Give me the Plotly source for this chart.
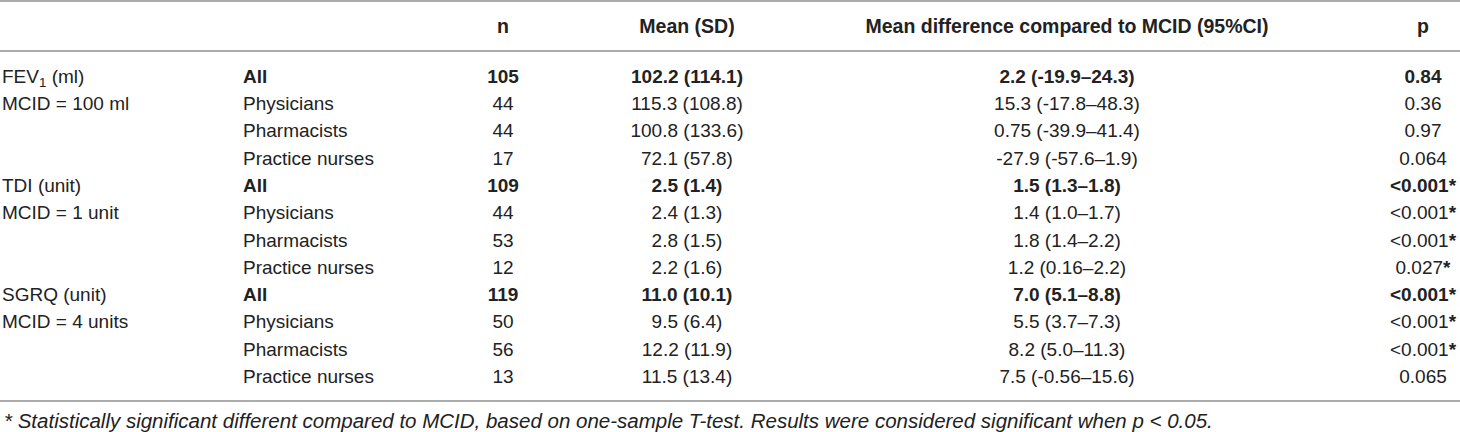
import plotly.graph_objects as go

# table content
headers = ["", "", "n", "Mean (SD)", "Mean difference compared to MCID (95%CI)", "p"]
measures = ["FEV<sub>1</sub> (ml)", "MCID = 100 ml", "", "",
            "TDI (unit)", "MCID = 1 unit", "", "",
            "SGRQ (unit)", "MCID = 4 units", "", ""]
groups = ["All", "Physicians", "Pharmacists", "Practice nurses"] * 3
n_vals = [105, 44, 44, 17, 109, 44, 53, 12, 119, 50, 56, 13]
mean_sd = ["102.2 (114.1)", "115.3 (108.8)", "100.8 (133.6)", "72.1 (57.8)",
           "2.5 (1.4)", "2.4 (1.3)", "2.8 (1.5)", "2.2 (1.6)",
           "11.0 (10.1)", "9.5 (6.4)", "12.2 (11.9)", "11.5 (13.4)"]
mean_diff = ["2.2 (-19.9–24.3)", "15.3 (-17.8–48.3)", "0.75 (-39.9–41.4)", "-27.9 (-57.6–1.9)",
             "1.5 (1.3–1.8)", "1.4 (1.0–1.7)", "1.8 (1.4–2.2)", "1.2 (0.16–2.2)",
             "7.0 (5.1–8.8)", "5.5 (3.7–7.3)", "8.2 (5.0–11.3)", "7.5 (-0.56–15.6)"]
p_vals = ["0.84", "0.36", "0.97", "0.064",
          "&lt;0.001", "&lt;0.001", "&lt;0.001", "0.027",
          "&lt;0.001", "&lt;0.001", "&lt;0.001", "0.065"]
significant = [False, False, False, False,
               True, True, True, True,
               True, True, True, False]
footnote = ("* Statistically significant different compared to MCID, based on one-sample T-test. "
            "Results were considered significant when p &lt; 0.05.")

W, H = 1460, 432
FONT = "Liberation Sans, Arial, sans-serif"
SIZE = 19
HEAD_SIZE = 19.5
INK = "#222222"
RULE = "#8f8f8f"

header_y = 28
row_y = [78 + 27.3 * i for i in range(len(groups))]
bold_row = [g == "All" for g in groups]


def bolden(texts):
    return [f"<b>{t}</b>" if b else t for t, b in zip(texts, bold_row)]


p_text = [p + "<b>*</b>" if s else p for p, s in zip(p_vals, significant)]

# column: (x, textposition, texts)
columns = [
    (2, "middle right", measures),
    (243, "middle right", bolden(groups)),
    (503, "middle center", bolden([str(v) for v in n_vals])),
    (687, "middle center", bolden(mean_sd)),
    (1067, "middle center", bolden(mean_diff)),
    (1423, "middle center", bolden(p_text)),
]

fig = go.Figure()
for (x, pos, texts), head in zip(columns, headers):
    keep = [i for i, t in enumerate(texts) if t]
    fig.add_trace(go.Scatter(
        x=[x] * len(keep), y=[row_y[i] for i in keep],
        text=[texts[i] for i in keep],
        mode="text",
        textposition=pos,
        textfont=dict(family=FONT, size=SIZE, color=INK),
        hoverinfo="skip",
        showlegend=False,
    ))
    if head:
        fig.add_trace(go.Scatter(
            x=[x], y=[header_y], text=[f"<b>{head}</b>"],
            mode="text", textposition=pos,
            textfont=dict(family=FONT, size=HEAD_SIZE, color=INK),
            hoverinfo="skip", showlegend=False,
        ))

for y in [1, 51, 401]:
    fig.add_shape(type="line", x0=0, x1=W, y0=y, y1=y, xref="x", yref="y",
                  line=dict(color=RULE, width=1.6))

fig.add_annotation(x=2, y=420, xref="x", yref="y", text=f"<i>{footnote}</i>",
                   showarrow=False, xanchor="left", yanchor="middle",
                   font=dict(family=FONT, size=20.5, color=INK))

fig.update_xaxes(range=[0, W], visible=False, fixedrange=True)
fig.update_yaxes(range=[H, 0], visible=False, fixedrange=True)
fig.update_layout(width=W, height=H, margin=dict(l=0, r=0, t=0, b=0),
                  plot_bgcolor="white", paper_bgcolor="white")

# page body has a default 8px margin; drop it so the table fills the window
fig.write_html("out.html", config={"displayModeBar": False},
               post_script="document.body.style.margin='0';")
